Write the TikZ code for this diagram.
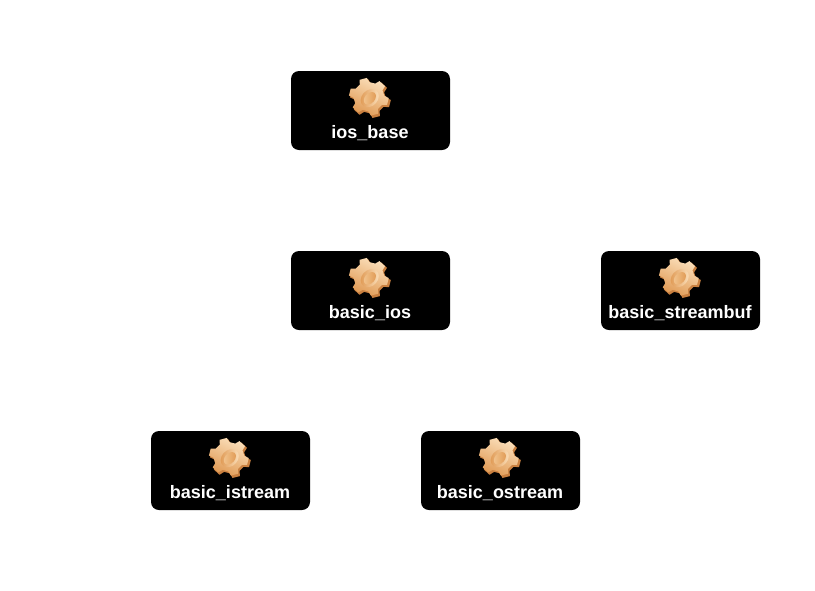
\documentclass[tikz,border=0pt]{standalone}
\usepackage{fontspec}
\setmainfont{Liberation Sans}
\usetikzlibrary{shadings}
\definecolor{gearlight}{HTML}{FBE0BC}
\definecolor{gearmid}{HTML}{F2C48E}
\definecolor{geardark}{HTML}{E09A54}
\definecolor{gearedge}{HTML}{C98040}
\tikzset{
  x=1pt,y=-1pt,
  classbox/.style={draw=none,fill=black,rounded corners=8pt,minimum width=159pt,minimum height=79pt,inner sep=0pt},
  classlabel/.style={text=white,font=\bfseries\fontsize{18}{20}\selectfont,inner sep=0pt,anchor=base},
  pics/gear/.style={code={
    \begin{scope}[y=1pt,x=1pt,rotate=-14,yscale=.94]
      % side of the gear
      \fill[gearedge,shift={(1.2,-1.0)}] (-19:15.5)
        \foreach \a in {0,60,120,180,240,300}{ -- (\a-19:15.5) -- (\a-11:20.5) -- (\a+11:20.5) -- (\a+19:15.5)} -- cycle;
      % face of the gear
      \shade[top color=gearlight,bottom color=geardark,shading angle=-25,shift={(-.8,.6)}] (-19:15.5)
        \foreach \a in {0,60,120,180,240,300}{ -- (\a-19:15.5) -- (\a-11:20) -- (\a+11:20) -- (\a+19:15.5)} -- cycle;
      \begin{scope}[rotate=-25]
      \shade[left color=geardark,right color=gearlight,shift={(.6,-.4)}] (0,0) ellipse [x radius=8,y radius=10.5];
      \shade[left color=gearmid,right color=geardark,shift={(.8,-.4)}] (0,0) ellipse [x radius=5,y radius=7.5];
      \end{scope}
    \end{scope}
  }},
}
\begin{document}
\begin{tikzpicture}
\useasboundingbox (0,0) rectangle (815,590);
\node[classbox] (iosbase) at (370.5,110.5) {};
\node[classbox] (basicios) at (370.5,290.5) {};
\node[classbox] (streambuf) at (680.5,290.5) {};
\node[classbox] (istream) at (230.5,470.5) {};
\node[classbox] (ostream) at (500.5,470.5) {};
\pic at (369.5,97.5) {gear};
\pic at (369.5,277.5) {gear};
\pic at (679.5,277.5) {gear};
\pic at (229.5,457.5) {gear};
\pic at (499.5,457.5) {gear};
\node[classlabel] (t1) at (370,138) {ios\_base};
\node[classlabel] (t2) at (370,318) {basic\_ios};
\node[classlabel] (t3) at (680,318) {basic\_streambuf};
\node[classlabel] (t4) at (230,498) {basic\_istream};
\node[classlabel] (t5) at (500,498) {basic\_ostream};
\end{tikzpicture}
\end{document}
